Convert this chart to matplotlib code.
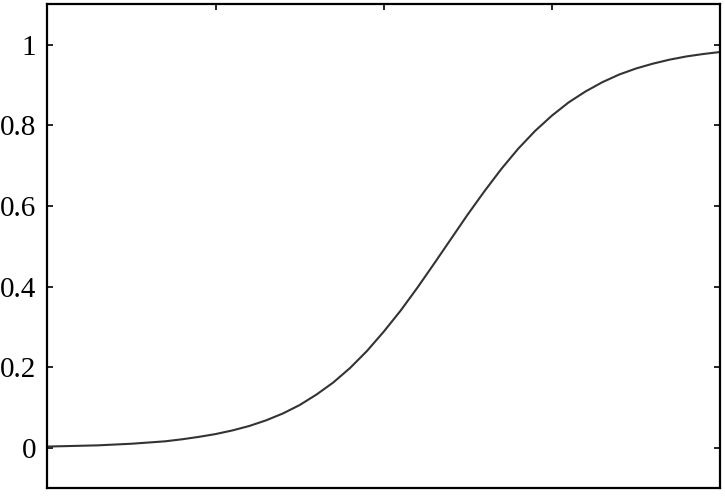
import matplotlib
matplotlib.use("Agg")
import matplotlib.pyplot as plt

# values
x_vals = [0.0, 0.1, 0.2, 0.3, 0.4, 0.5, 0.6, 0.7, 0.8, 0.9, 1.0,
          1.1, 1.2, 1.3, 1.4, 1.5, 1.6, 1.7, 1.8, 1.9, 2.0,
          2.1, 2.2, 2.3, 2.4, 2.5, 2.6, 2.7, 2.8, 2.9, 3.0,
          3.1, 3.2, 3.3, 3.4, 3.5, 3.6, 3.7, 3.8, 3.9, 4.0]
y_vals = [0.003, 0.004, 0.005, 0.006, 0.008, 0.010, 0.013, 0.016, 0.021, 0.027, 0.034,
          0.043, 0.054, 0.068, 0.085, 0.106, 0.132, 0.162, 0.198, 0.240, 0.288,
          0.340, 0.397, 0.457, 0.518, 0.579, 0.637, 0.692, 0.742, 0.786, 0.824,
          0.857, 0.884, 0.907, 0.926, 0.941, 0.953, 0.963, 0.971, 0.977, 0.982]
y_ticks = [0, 0.2, 0.4, 0.6, 0.8, 1]
y_labels = ["0", "0.2", "0.4", "0.6", "0.8", "1"]
x_ticks = [1, 2, 3]

plt.rcParams['font.family'] = ['Liberation Serif', 'DejaVu Serif']

fig = plt.figure(figsize=(7.25, 4.96), dpi=100)
ax = fig.add_axes([0.0655, 0.016, 0.9275, 0.975])

ax.plot(x_vals, y_vals, color="#333333", linewidth=1.5)

ax.set_xlim(0, 4)
ax.set_ylim(-0.1, 1.1)
ax.set_yticks(y_ticks)
ax.set_yticklabels(y_labels)
ax.set_xticks(x_ticks)

ax.tick_params(axis='y', direction='in', left=True, right=True, length=4.5, width=1.2,
               labelsize=21, pad=8)
ax.tick_params(axis='x', direction='in', top=True, bottom=False, labelbottom=False,
               length=4.5, width=1.2)

for sp in ax.spines.values():
    sp.set_linewidth(1.6)

fig.savefig("out.png", dpi=100)
